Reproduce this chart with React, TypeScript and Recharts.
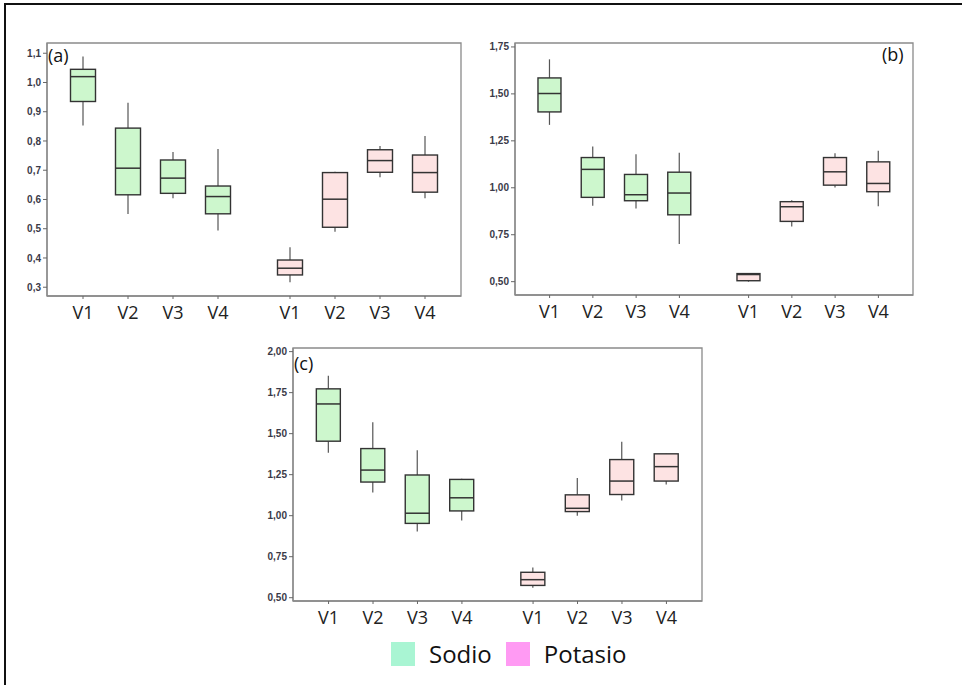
import React from "react";
import { ComposedChart, Bar, XAxis, YAxis, ReferenceArea } from "recharts";

// posiciones en el eje x (hueco entre Sodio y Potasio)
const X_POS = [1, 2, 3, 4, 5.6, 6.6, 7.6, 8.6];
const X_LABELS = ["V1", "V2", "V3", "V4", "V1", "V2", "V3", "V4"];
const VARIEDADES = ["V1", "V2", "V3", "V4"];

// [min, q1, mediana, q3, max] por variedad
const sodioA = [
  [0.853, 0.935, 1.02, 1.045, 1.089],
  [0.55, 0.616, 0.707, 0.844, 0.931],
  [0.604, 0.621, 0.673, 0.735, 0.762],
  [0.494, 0.551, 0.61, 0.646, 0.773],
];
const potasioA = [
  [0.317, 0.342, 0.365, 0.393, 0.437],
  [0.49, 0.505, 0.601, 0.692, 0.695],
  [0.676, 0.693, 0.733, 0.77, 0.783],
  [0.604, 0.625, 0.692, 0.752, 0.817],
];

const sodioB = [
  [1.335, 1.404, 1.502, 1.585, 1.684],
  [0.904, 0.949, 1.098, 1.161, 1.22],
  [0.89, 0.931, 0.963, 1.071, 1.179],
  [0.7, 0.856, 0.972, 1.083, 1.186],
];
const potasioB = [
  [0.5, 0.505, 0.538, 0.543, 0.545],
  [0.794, 0.821, 0.899, 0.926, 0.933],
  [1.002, 1.014, 1.085, 1.161, 1.184],
  [0.902, 0.979, 1.023, 1.138, 1.197],
];

const sodioC = [
  [1.383, 1.454, 1.681, 1.773, 1.853],
  [1.141, 1.205, 1.278, 1.409, 1.569],
  [0.904, 0.953, 1.015, 1.248, 1.399],
  [0.97, 1.029, 1.109, 1.221, 1.225],
];
const potasioC = [
  [0.561, 0.575, 0.61, 0.655, 0.684],
  [1.0, 1.025, 1.045, 1.127, 1.229],
  [1.092, 1.129, 1.211, 1.342, 1.45],
  [1.19, 1.211, 1.299, 1.377, 1.379],
];

const TICKS_A = [0.3, 0.4, 0.5, 0.6, 0.7, 0.8, 0.9, 1.0, 1.1];
const TICKS_BC = [0.5, 0.75, 1.0, 1.25, 1.5, 1.75, 2.0];

const buildRows = (sodio: number[][], potasio: number[][]) =>
  [...sodio, ...potasio].map((s, i) => ({
    pos: X_POS[i],
    name: VARIEDADES[i % 4],
    serie: i < 4 ? "Sodio" : "Potasio",
    min: s[0],
    q1: s[1],
    med: s[2],
    q3: s[3],
    max: s[4],
  }));

const BoxShape = (props: any) => {
  const { x, y, width, height, payload } = props;
  const { min, q1, med, q3, max, serie } = payload;
  const py = (v: number) => y + ((max - v) / (max - min)) * height;
  const cx = x + width / 2;
  const fill = serie === "Sodio" ? "#cdf7cd" : "#fde3e3";
  return (
    <g>
      <line x1={cx} x2={cx} y1={py(max)} y2={py(q3)} stroke="#555" strokeWidth={1.2} />
      <line x1={cx} x2={cx} y1={py(q1)} y2={py(min)} stroke="#555" strokeWidth={1.2} />
      <rect x={x} y={py(q3)} width={width} height={py(q1) - py(q3)} fill={fill} stroke="#333" strokeWidth={1.4} />
      <line x1={x} x2={x + width} y1={py(med)} y2={py(med)} stroke="#333" strokeWidth={1.5} />
    </g>
  );
};

const Panel = ({ data, left, top, width, height, margin, yWidth, xHeight, yDomain, yTicks, decimals, barSize, tag, tagPos }: any) => {
  const xDomain = [X_POS[0] - 0.8, X_POS[7] + 0.8];
  return (
    <div style={{ position: "absolute", left, top, width, height }}>
      <ComposedChart width={width} height={height} data={data} margin={margin}>
        <XAxis
          dataKey="pos"
          type="number"
          domain={xDomain}
          ticks={X_POS}
          allowDataOverflow
          height={xHeight}
          interval={0}
          tickFormatter={(v: number) => X_LABELS[X_POS.indexOf(v)]}
          tick={{ fill: "#222", fontSize: 18, fontFamily: "Open Sans" }}
          tickSize={3}
          tickMargin={7}
          axisLine={{ stroke: "#8a8a8a", strokeWidth: 1.3 }}
          tickLine={{ stroke: "#666" }}
        />
        <YAxis
          type="number"
          domain={yDomain}
          ticks={yTicks}
          allowDataOverflow
          width={yWidth}
          interval={0}
          tickFormatter={(v: number) => v.toFixed(decimals).replace(".", ",")}
          tick={{ fill: "#3a3a48", fontSize: 10, fontFamily: "Liberation Sans", fontWeight: 600 }}
          tickSize={4}
          tickMargin={2}
          axisLine={{ stroke: "#8a8a8a", strokeWidth: 1.3 }}
          tickLine={{ stroke: "#666" }}
        />
        <ReferenceArea
          x1={xDomain[0]}
          x2={xDomain[1]}
          y1={yDomain[0]}
          y2={yDomain[1]}
          fill="none"
          stroke="#8a8a8a"
          strokeWidth={1.3}
          ifOverflow="visible"
        />
        <Bar dataKey={(d: any) => [d.min, d.max]} barSize={barSize} shape={BoxShape} isAnimationActive={false} />
      </ComposedChart>
      <div
        style={{
          position: "absolute",
          left: tagPos[0],
          top: tagPos[1],
          fontFamily: "Open Sans",
          fontSize: 18,
          lineHeight: "20px",
          color: "#111",
        }}
      >
        {tag}
      </div>
    </div>
  );
};

const LegendItem = ({ color, label }: { color: string; label: string }) => (
  <div style={{ display: "flex", alignItems: "center", marginRight: 14 }}>
    <div style={{ width: 24, height: 24, background: color, marginRight: 14 }} />
    <span style={{ fontFamily: "Open Sans", fontSize: 24, color: "#111" }}>{label}</span>
  </div>
);

export default function App() {
  return (
    <div style={{ position: "absolute", left: 0, top: 0, width: 962, height: 685, background: "#fff", overflow: "hidden" }}>
      <div style={{ position: "absolute", left: 4, top: 3, width: 962, height: 685, borderTop: "2px solid #111", borderLeft: "2px solid #111" }} />
      <Panel
        data={buildRows(sodioA, potasioA)}
        left={0}
        top={0}
        width={480}
        height={330}
        margin={{ top: 43, right: 19, bottom: 4, left: 0 }}
        yWidth={47}
        xHeight={30}
        yDomain={[0.27, 1.135]}
        yTicks={TICKS_A}
        decimals={1}
        barSize={25}
        tag="(a)"
        tagPos={[48, 45]}
      />
      <Panel
        data={buildRows(sodioB, potasioB)}
        left={480}
        top={0}
        width={482}
        height={330}
        margin={{ top: 43, right: 49, bottom: 4, left: 0 }}
        yWidth={35}
        xHeight={31}
        yDomain={[0.429, 1.771]}
        yTicks={TICKS_BC.slice(0, 6)}
        decimals={2}
        barSize={23}
        tag="(b)"
        tagPos={[402, 44]}
      />
      <Panel
        data={buildRows(sodioC, potasioC)}
        left={240}
        top={320}
        width={480}
        height={311}
        margin={{ top: 28, right: 18, bottom: 0, left: 0 }}
        yWidth={53}
        xHeight={30}
        yDomain={[0.48, 2.022]}
        yTicks={TICKS_BC}
        decimals={2}
        barSize={24}
        tag="(c)"
        tagPos={[54, 33]}
      />
      <div style={{ position: "absolute", left: 391, top: 637, display: "flex", alignItems: "center" }}>
        <LegendItem color="#a9f5d3" label="Sodio" />
        <LegendItem color="#ff9af3" label="Potasio" />
      </div>
    </div>
  );
}
